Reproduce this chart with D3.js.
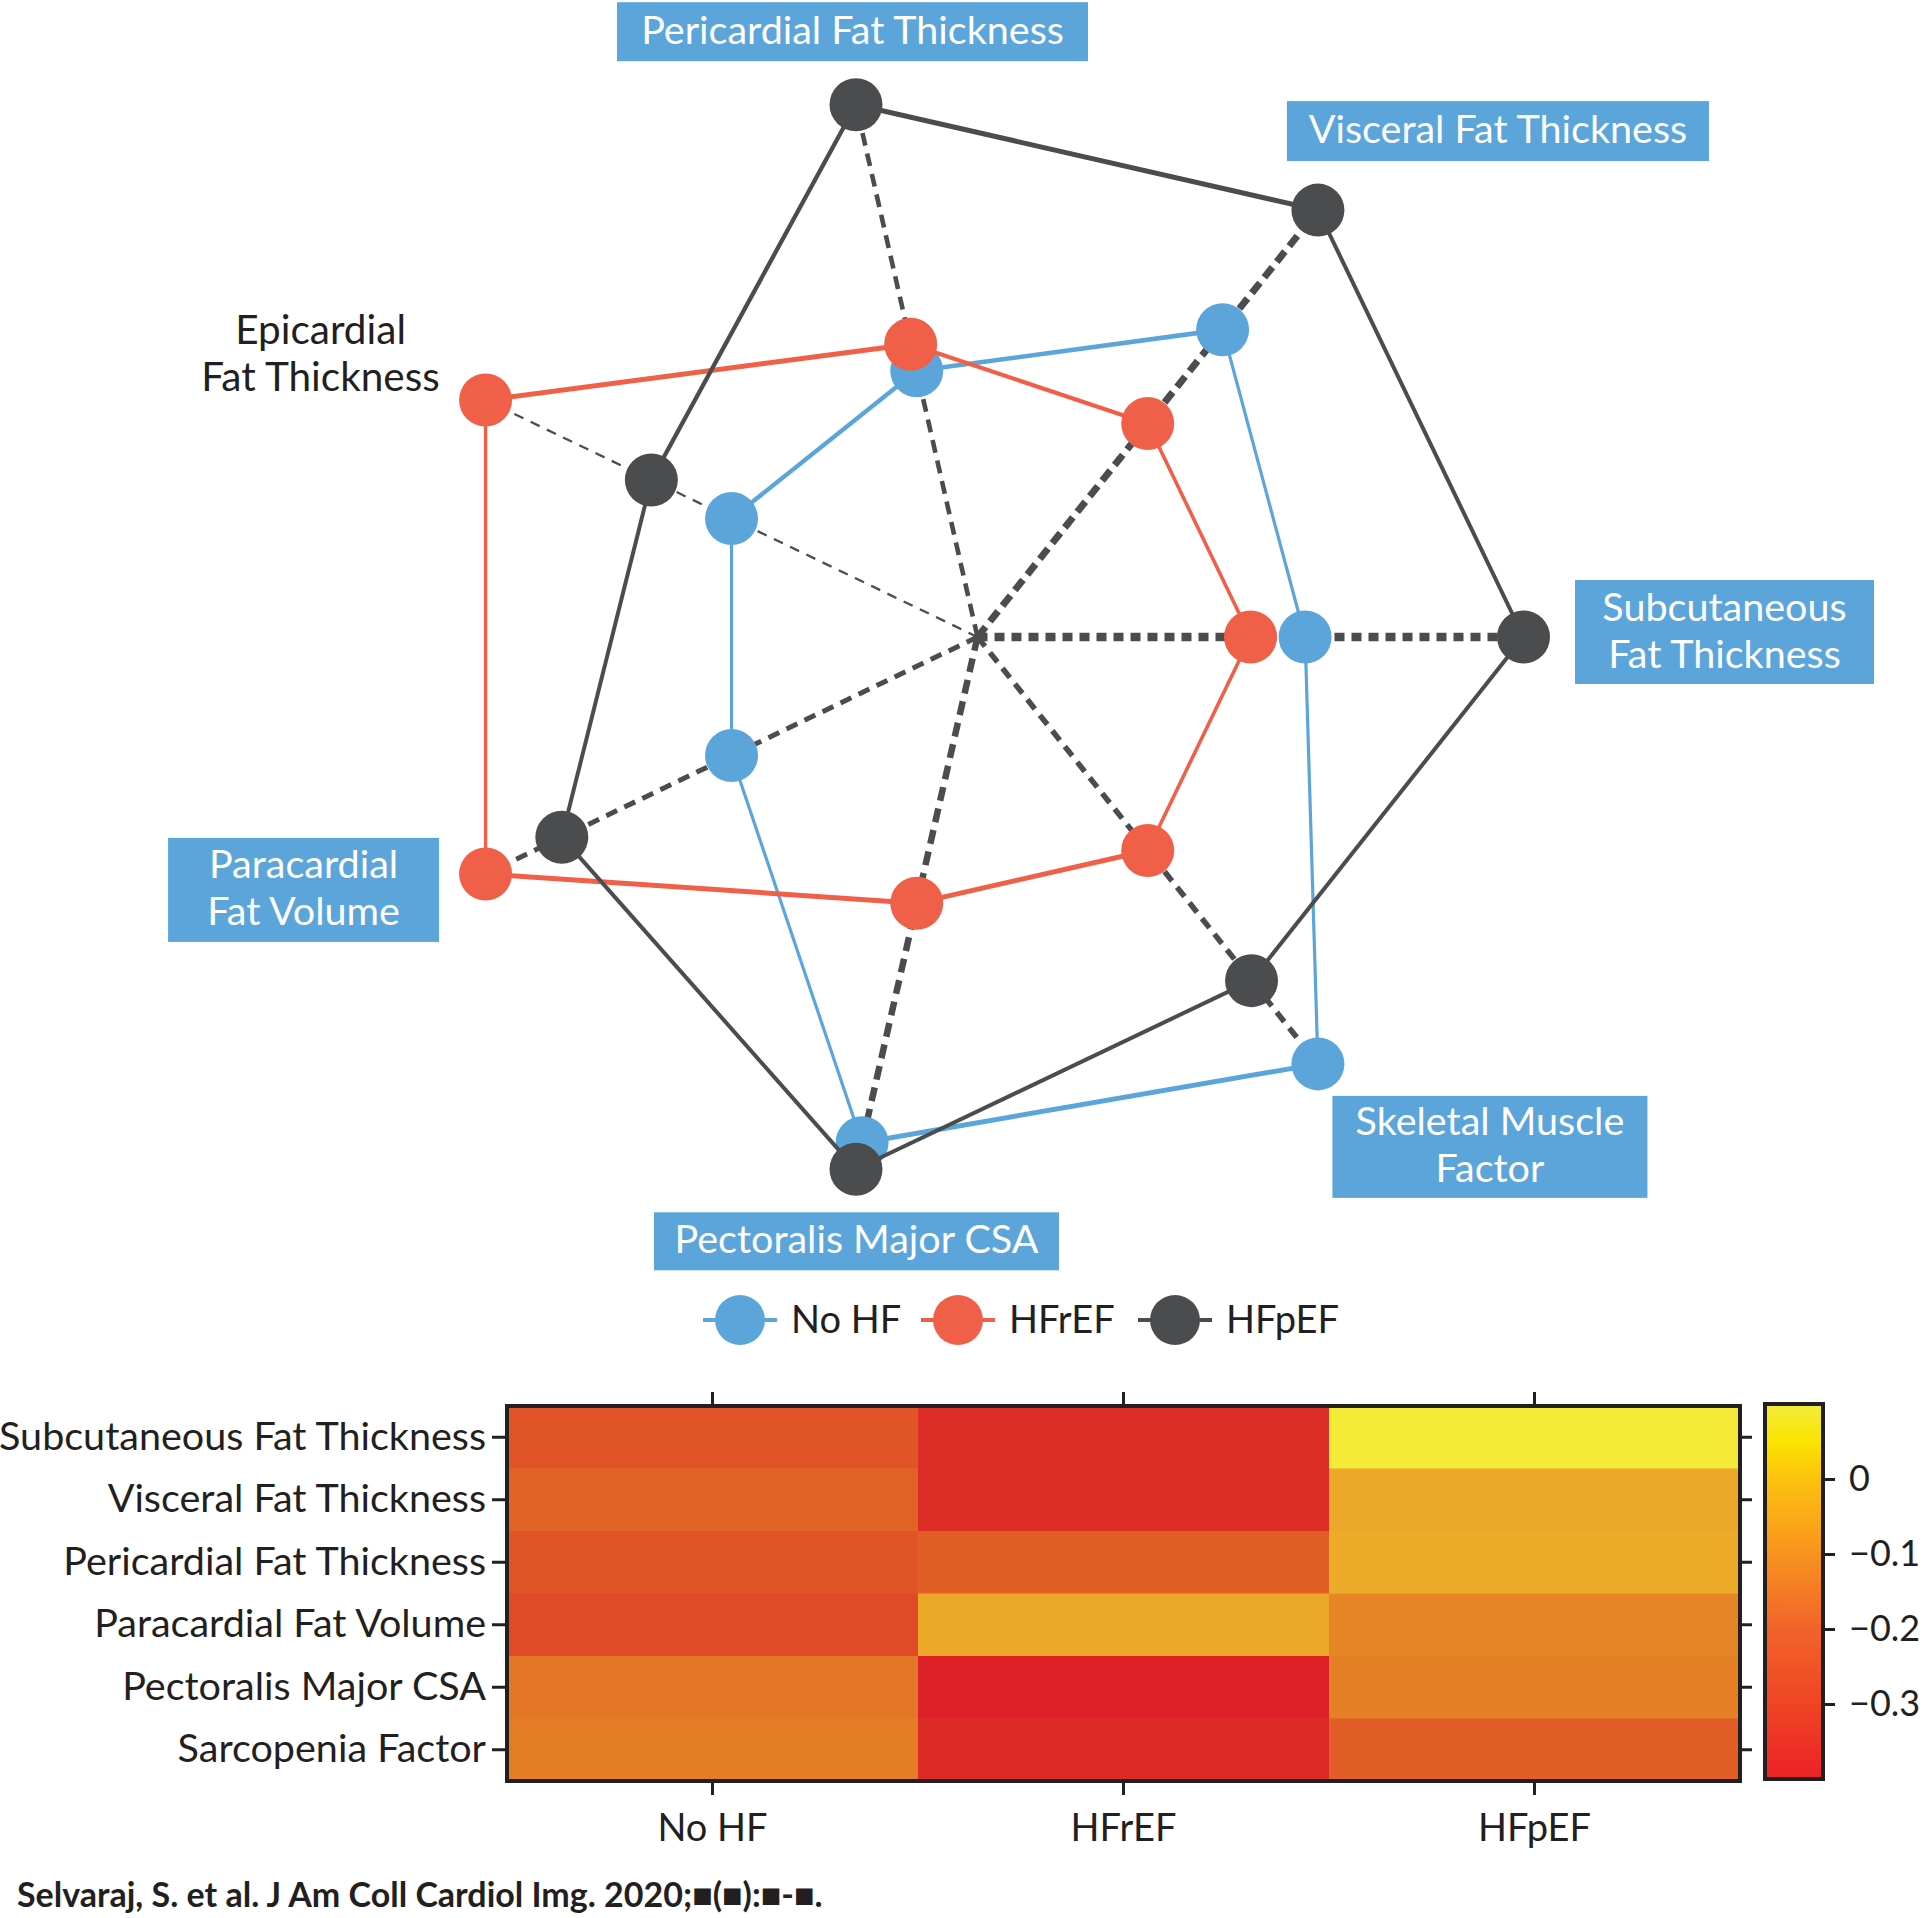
<!DOCTYPE html>
<html><head><meta charset="utf-8">
<script src="https://cdn.jsdelivr.net/npm/d3@7"></script>
<style>
html,body{margin:0;padding:0;background:#fff;}
svg{display:block;font-family:Lato,"Noto Sans",sans-serif;}
</style></head>
<body>
<svg id="chart" width="1924" height="1918"></svg>
<script>
// ---------- DATA ----------
const radarAxes = ["Pericardial Fat Thickness","Visceral Fat Thickness","Subcutaneous Fat Thickness","Skeletal Muscle Factor","Pectoralis Major CSA","Paracardial Fat Volume","Epicardial Fat Thickness"];
const seriesNames = ["No HF","HFrEF","HFpEF"];
const noHF  = [0.50, 0.72, 0.60, 1.00, 0.95, 0.50, 0.50];
const hfrEF = [0.55, 0.50, 0.50, 0.50, 0.50, 1.00, 1.00];
const hfpEF = [1.00, 1.00, 1.00, 0.805, 1.00, 0.845, 0.663];

const hmRows = ["Subcutaneous Fat Thickness","Visceral Fat Thickness","Pericardial Fat Thickness","Paracardial Fat Volume","Pectoralis Major CSA","Sarcopenia Factor"];
const hmCols = ["No HF","HFrEF","HFpEF"];
const hmNoHF  = [-0.22, -0.18, -0.22, -0.25, -0.14, -0.13];
const hmHFrEF = [-0.35, -0.35, -0.19, -0.03, -0.39, -0.36];
const hmHFpEF = [ 0.09, -0.03, -0.02, -0.11, -0.12, -0.19];
const cbTicks = [0, -0.1, -0.2, -0.3];
const citation = "Selvaraj, S. et al. J Am Coll Cardiol Img. 2020;\u25A0(\u25A0):\u25A0-\u25A0.";

// ---------- STYLE ----------
const colors = {"No HF":"#5BA5DB","HFrEF":"#F05F48","HFpEF":"#4B4C4E"};
const boxFill = "#5BA5DB";
const ink = "#231F20";
const axisStyle = [
  {w:4.6, dash:"13,8"},  // pericardial
  {w:7,   dash:"13,7"},  // visceral
  {w:8.5, dash:"10,7"},  // subcutaneous
  {w:5.5, dash:"12,8"},  // skeletal
  {w:6.5, dash:"14,8"},  // pectoralis
  {w:5,   dash:"12,8"},  // paracardial
  {w:2.3, dash:"10,8"}   // epicardial
];
const edgeWidths = {
  "No HF":[4.6, 3.2, 3.2, 5, 3.2, 3.2, 4.4],
  "HFrEF":[4.2, 3.6, 3.6, 5, 5, 3.4, 5],
  "HFpEF":[5, 4, 4, 4, 4, 4, 4.3]
};

const svg = d3.select("#chart");

// ---------- RADAR ----------
const cx = 977.5, cy = 637, R = 546, dotR = 26.5;
const rScale = d3.scaleLinear().domain([0,1]).range([0,R]);
const step = 2*Math.PI/radarAxes.length;
const angleOf = i => Math.PI/2 + (i-2)*step;
const radar = svg.append("g").attr("transform",`translate(${cx},${cy})`);

radar.selectAll("line.axis").data(radarAxes).join("line")
  .attr("class","axis")
  .attr("x1",0).attr("y1",0)
  .attr("x2",(d,i)=>d3.pointRadial(angleOf(i), rScale(1))[0])
  .attr("y2",(d,i)=>d3.pointRadial(angleOf(i), rScale(1))[1])
  .attr("stroke","#4B4C4E")
  .attr("stroke-width",(d,i)=>axisStyle[i].w)
  .attr("stroke-dasharray",(d,i)=>axisStyle[i].dash);

const seriesData = [["No HF",noHF],["HFrEF",hfrEF],["HFpEF",hfpEF]];
seriesData.forEach(([name, vals])=>{
  const pts = vals.map((v,i)=>d3.pointRadial(angleOf(i), rScale(v)));
  const g = radar.append("g");
  g.selectAll("line").data(pts).join("line")
    .attr("x1",d=>d[0]).attr("y1",d=>d[1])
    .attr("x2",(d,i)=>pts[(i+1)%pts.length][0])
    .attr("y2",(d,i)=>pts[(i+1)%pts.length][1])
    .attr("stroke",colors[name])
    .attr("stroke-width",(d,i)=>edgeWidths[name][i]);
  g.selectAll("circle").data(pts).join("circle")
    .attr("cx",d=>d[0]).attr("cy",d=>d[1]).attr("r",dotR)
    .attr("fill",colors[name]);
});

// ---------- RADAR LABELS ----------
// label centres as offsets from each axis end point; box sizes
const labelLayout = [
  {dx:-3.5, dy:-73,  bw:471, bh:59,  lines:["Pericardial Fat Thickness"]},
  {dx:180,  dy:-79,  bw:422, bh:60,  lines:["Visceral Fat Thickness"]},
  {dx:201,  dy:-5,   bw:299, bh:104, lines:["Subcutaneous","Fat Thickness"]},
  {dx:172,  dy:83,   bw:315, bh:102, lines:["Skeletal Muscle","Factor"]},
  {dx:0.5,  dy:72,   bw:405, bh:58,  lines:["Pectoralis Major CSA"]},
  {dx:-182, dy:16,   bw:271, bh:104, lines:["Paracardial","Fat Volume"]},
  {dx:-165, dy:-44.5,bw:0,   bh:0,   lines:["Epicardial","Fat Thickness"]}
];
const labFont = 39.5, lineGap = 47;
radarAxes.forEach((a,i)=>{
  const p = d3.pointRadial(angleOf(i), rScale(1));
  const L = labelLayout[i];
  const lx = cx + p[0] + L.dx, ly = cy + p[1] + L.dy;
  const g = svg.append("g");
  const n = L.lines.length;
  if (L.bw){
    g.append("rect").attr("x",lx - L.bw/2).attr("y",ly - L.bh/2)
      .attr("width",L.bw).attr("height",L.bh).attr("fill",boxFill);
  }
  const t = g.append("text").attr("text-anchor","middle")
    .attr("font-size", L.bw ? labFont : 40.5)
    .attr("fill", L.bw ? "#fff" : ink);
  L.lines.forEach((s,k)=>{
    t.append("tspan").attr("x",lx)
      .attr("y", ly + 12 - (n-1)*lineGap/2 + k*lineGap)
      .text(s);
  });
});

// ---------- LEGEND ----------
const legX = [740, 958, 1175], legY = 1320;
const leg = svg.append("g");
seriesNames.forEach((s,i)=>{
  const g = leg.append("g").attr("transform",`translate(${legX[i]},${legY})`);
  g.append("line").attr("x1",-37).attr("x2",37).attr("stroke",colors[s]).attr("stroke-width",4);
  g.append("circle").attr("r",25).attr("fill",colors[s]);
  g.append("text").attr("x",51).attr("y",13).attr("font-size",38).attr("fill",ink).text(s);
});

// ---------- HEATMAP ----------
const hmLeft = 507, hmRight = 1740, hmTop = 1406, hmBottom = 1781;
const x = d3.scaleBand().domain(hmCols).range([hmLeft,hmRight]);
const y = d3.scaleBand().domain(hmRows).range([hmTop,hmBottom]);
const cDomain = [-0.4,-0.3,-0.2,-0.1,0,0.05,0.1];
const color = d3.scaleLinear().domain(cDomain)
  .range(["#DC1F26","#DE3A27","#E05A27","#E68A26","#EDB52A","#F6E12A","#F4EC3C"]);
const cbColor = d3.scaleLinear().domain(cDomain)
  .range(["#EC2128","#EE4524","#F1632A","#F7931E","#FDC20F","#FBE400","#F2EC3C"]);

const cells = [];
hmRows.forEach((r,ri)=>{
  [hmNoHF,hmHFrEF,hmHFpEF].forEach((arr,ci)=>cells.push({row:r,col:hmCols[ci],v:arr[ri]}));
});
const hm = svg.append("g");
hm.selectAll("rect.cell").data(cells).join("rect").attr("class","cell")
  .attr("x",d=>x(d.col)).attr("y",d=>y(d.row))
  .attr("width",x.bandwidth()+0.5).attr("height",y.bandwidth()+0.5)
  .attr("fill",d=>color(d.v));
hm.append("rect").attr("x",hmLeft).attr("y",hmTop)
  .attr("width",hmRight-hmLeft).attr("height",hmBottom-hmTop)
  .attr("fill","none").attr("stroke",ink).attr("stroke-width",4);

function styleAxis(g, fs){
  g.select(".domain").remove();
  g.selectAll(".tick line").attr("stroke",ink).attr("stroke-width",3);
  g.selectAll(".tick text").attr("fill",ink).attr("font-size",fs).attr("font-family","Lato,'Noto Sans',sans-serif");
}
svg.append("g").attr("transform",`translate(${hmLeft-2},0)`)
  .call(d3.axisLeft(y).tickSize(13).tickPadding(6)).call(g=>styleAxis(g,39.5));
svg.append("g").attr("transform",`translate(0,${hmBottom+2})`)
  .call(d3.axisBottom(x).tickSize(12).tickPadding(19)).call(g=>styleAxis(g,38));
svg.append("g").attr("transform",`translate(0,${hmTop-2})`)
  .call(d3.axisTop(x).tickSize(12).tickFormat("")).call(g=>styleAxis(g,38));
svg.append("g").attr("transform",`translate(${hmRight+2},0)`)
  .call(d3.axisRight(y).tickSize(10).tickFormat("")).call(g=>styleAxis(g,38));

// ---------- COLORBAR ----------
const cbL = 1765, cbR = 1823, cbT = 1404, cbB = 1779;
const cbY = d3.scaleLinear().domain([-0.4,0.1]).range([cbB,cbT]);
const defs = svg.append("defs");
const grad = defs.append("linearGradient").attr("id","cbgrad")
  .attr("x1",0).attr("y1",1).attr("x2",0).attr("y2",0);
d3.range(0,1.0001,0.05).forEach(t=>{
  grad.append("stop").attr("offset",t).attr("stop-color",cbColor(-0.4+0.5*t));
});
svg.append("rect").attr("x",cbL).attr("y",cbT).attr("width",cbR-cbL).attr("height",cbB-cbT)
  .attr("fill","url(#cbgrad)").attr("stroke",ink).attr("stroke-width",4);
svg.append("g").attr("transform",`translate(${cbR+2},0)`)
  .call(d3.axisRight(cbY).tickValues(cbTicks).tickSize(10).tickPadding(14)
    .tickFormat(d=> d===0 ? "0" : "\u2212"+Math.abs(d).toFixed(1)))
  .call(g=>styleAxis(g,36));

// ---------- CITATION ----------
svg.append("text").attr("x",17).attr("y",1907).attr("font-size",34).attr("font-weight","bold")
  .attr("fill",ink).text(citation);
</script>
</body></html>
